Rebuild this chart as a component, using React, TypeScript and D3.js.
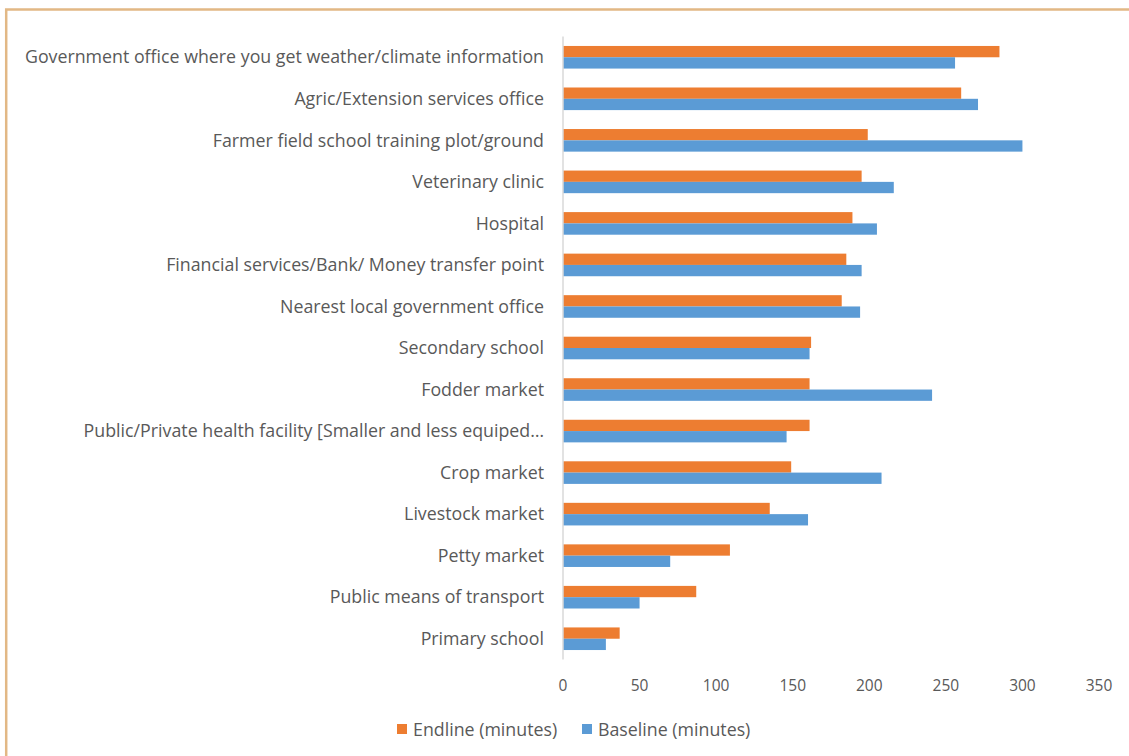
import React from "react";
import * as d3 from "d3";

const categories = [
  "Government office where you get weather/climate information",
  "Agric/Extension services office",
  "Farmer field school training plot/ground",
  "Veterinary clinic",
  "Hospital",
  "Financial services/Bank/ Money transfer point",
  "Nearest local government office",
  "Secondary school",
  "Fodder market",
  "Public/Private health facility [Smaller and less equiped…",
  "Crop market",
  "Livestock market",
  "Petty market",
  "Public means of transport",
  "Primary school",
];

const endline = [285, 260, 199, 195, 189, 185, 182, 162, 161, 161, 149, 135, 109, 87, 37];
const baseline = [256, 271, 300, 216, 205, 195, 194, 161, 241, 146, 208, 160, 70, 50, 28];

const xTicks = [0, 50, 100, 150, 200, 250, 300, 350];
const seriesNames = ["Endline (minutes)", "Baseline (minutes)"];
const seriesColors = ["#ED7D31", "#5B9BD5"];

const W = 1129;
const H = 756;
const FONT = "'Open Sans', Lato, sans-serif";
const TEXT = "#595959";
const FS = 17.8;

export default function App() {
  const x = d3.scaleLinear().domain([0, 350]).range([563, 1099]);
  const y = d3.scaleBand<string>().domain(categories).range([36.5, 659.5]).padding(0);
  const step = y.step();
  const inner = d3
    .scaleBand<string>()
    .domain(["e", "b"])
    .range([-11.3, 11.3])
    .padding(0);

  const series = [endline, baseline];
  const keys = ["e", "b"];

  return (
    <div style={{ position: "fixed", left: 0, top: 0 }}>
      <svg width={W} height={H} style={{ display: "block", background: "#fff" }}>
        <rect x={6.2} y={9.5} width={W + 20} height={H + 20} fill="none" stroke="#E2B885" strokeWidth={2.5} />
        {categories.map((c, i) => {
          const cy = (y(c) as number) + step / 2;
          return (
            <g key={c}>
              {series.map((s, k) => (
                <rect
                  key={k}
                  x={x(0)}
                  y={cy + (inner(keys[k]) as number)}
                  width={x(s[i]) - x(0)}
                  height={inner.bandwidth()}
                  fill={seriesColors[k]}
                />
              ))}
              <text
                x={544}
                y={cy}
                dy="0.35em"
                textAnchor="end"
                fontFamily={FONT}
                fontSize={FS}
                fill={TEXT}
              >
                {c}
              </text>
            </g>
          );
        })}
        <line x1={x(0)} x2={x(0)} y1={36.5} y2={659.5} stroke="#D9D9D9" strokeWidth={1.5} />
        {xTicks.map((t) => (
          <text
            key={t}
            x={x(t)}
            y={686}
            dy="0.35em"
            textAnchor="middle"
            fontFamily={FONT}
            fontSize={15.5}
            fill={TEXT}
          >
            {t}
          </text>
        ))}
        {seriesNames.map((n, k) => {
          const lx = k === 0 ? 397 : 582;
          return (
            <g key={n}>
              <rect x={lx} y={724} width={10} height={10} fill={seriesColors[k]} />
              <text
                x={lx + 16}
                y={729.5}
                dy="0.35em"
                fontFamily={FONT}
                fontSize={FS}
                fill={TEXT}
              >
                {n}
              </text>
            </g>
          );
        })}
      </svg>
    </div>
  );
}
